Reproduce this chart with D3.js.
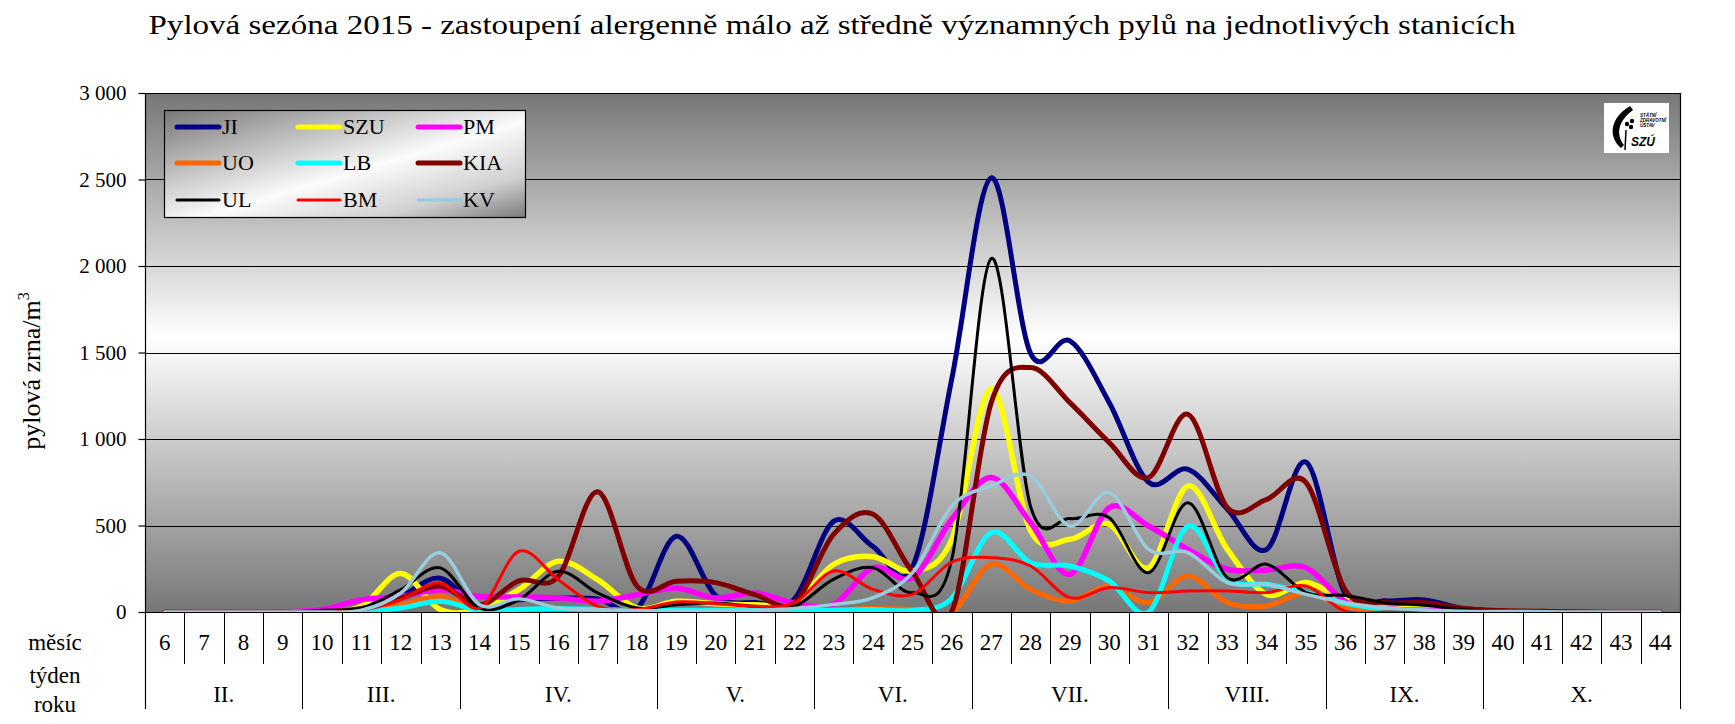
<!DOCTYPE html>
<html><head><meta charset="utf-8">
<script src="https://cdn.jsdelivr.net/npm/d3@7"></script>
<style>body{margin:0;background:#fff;} svg{display:block;} svg text{font-family:"Liberation Serif","Times New Roman",serif;}</style>
</head><body><svg id="c" width="1735" height="724"></svg>
<script>
const titleText = "Pylová sezóna 2015 - zastoupení alergenně málo až středně významných pylů na jednotlivých stanicích";
const weeks = ["6","7","8","9","10","11","12","13","14","15","16","17","18","19","20","21","22","23","24","25","26","27","28","29","30","31","32","33","34","35","36","37","38","39","40","41","42","43","44"];
const months = ["II.","III.","IV.","V.","VI.","VII.","VIII.","IX.","X."];
const monthSpans = [4,4,5,4,4,5,4,4,5];
const yTicks = [0,500,1000,1500,2000,2500,3000];

const JI  = [0,0,0,0,0,5,90,195,25,70,80,75,20,438,95,55,75,525,378,260,1350,2510,1495,1567,1210,750,825,594,362,866,100,65,70,20,5,2,0,0,0];
const SZU = [0,0,0,0,0,33,222,14,17,129,293,187,23,62,48,42,52,276,320,237,420,1291,470,420,507,256,729,362,102,170,70,35,30,10,2,0,0,0,0];
const PM  = [0,0,0,0,14,71,90,129,90,87,81,62,100,139,81,110,52,45,256,199,536,777,517,218,603,497,362,247,243,256,60,20,10,3,0,0,0,0,0];
const UO  = [0,0,0,0,0,10,42,90,14,5,5,5,5,5,5,5,5,10,20,15,0,276,131,64,150,54,208,54,35,110,30,10,5,0,0,0,0,0,0];
const LB  = [0,0,0,0,0,5,23,62,10,15,20,15,10,10,10,10,10,10,15,10,80,459,285,266,179,0,497,189,160,112,50,15,5,0,0,0,0,0,0];
const KIA = [0,0,0,0,0,20,80,150,40,180,205,695,150,178,170,100,52,450,565,230,5,1210,1413,1210,979,777,1143,603,651,748,125,55,55,20,8,4,2,0,0];
const UL  = [0,0,0,0,10,23,129,255,23,71,235,110,23,42,52,33,33,190,256,112,305,2043,610,540,545,227,632,198,276,112,96,54,39,15,3,0,0,0,0];
const BM  = [0,0,0,0,0,10,71,168,23,351,187,33,14,58,48,33,52,237,131,102,289,314,266,83,141,112,121,122,112,150,3,0,0,0,0,0,0,0,0];
const KV  = [0,0,0,0,0,10,110,342,42,77,23,14,8,8,8,10,20,44,83,227,613,729,786,497,690,362,343,170,160,102,54,25,12,5,3,2,0,0,0];

const seriesNames = ["JI","SZU","PM","UO","LB","KIA","UL","BM","KV"];
const seriesData = [JI,SZU,PM,UO,LB,KIA,UL,BM,KV];
const seriesColors = ["#000080","#ffff00","#ff00ff","#ff6600","#00ffff","#800000","#000000","#ff0000","#99ccdd"];
const seriesWidths = [5,5.5,5.5,5,5,5,3,3,3.5];

const SERIF = '"Liberation Serif","Times New Roman",serif';
const svg = d3.select("#c");
const L=145,R=1680,T=93,B=612;
const x = d3.scaleBand().domain(weeks).range([L,R]).padding(0);
const y = d3.scaleLinear().domain([0,3000]).range([B,T]);
const defs = svg.append("defs");

const bg = defs.append("linearGradient").attr("id","bg").attr("x1",0).attr("y1",0).attr("x2",0).attr("y2",1);
bg.append("stop").attr("offset",0).attr("stop-color","#777");
bg.append("stop").attr("offset",0.47).attr("stop-color","#fff");
bg.append("stop").attr("offset",1).attr("stop-color","#777");

const lg = defs.append("linearGradient").attr("id","lg").attr("x1",0).attr("y1",0).attr("x2",1).attr("y2",1);
lg.append("stop").attr("offset",0).attr("stop-color","#777");
lg.append("stop").attr("offset",0.55).attr("stop-color","#fbfbfb");
lg.append("stop").attr("offset",0.8).attr("stop-color","#d0d0d0");
lg.append("stop").attr("offset",1).attr("stop-color","#7a7a7a");

defs.append("clipPath").attr("id","clip").append("rect").attr("x",L).attr("y",T).attr("width",R-L).attr("height",B-T);

svg.append("rect").attr("x",L).attr("y",T).attr("width",R-L).attr("height",B-T).attr("fill","url(#bg)");

// gridlines
svg.append("g").selectAll("line").data(yTicks.filter(d=>d>0)).join("line")
  .attr("x1",L).attr("x2",R).attr("y1",d=>Math.round(y(d))+0.5).attr("y2",d=>Math.round(y(d))+0.5)
  .attr("stroke","#000").attr("stroke-width",1.2);
svg.append("line").attr("x1",R+0.5).attr("x2",R+0.5).attr("y1",T).attr("y2",B).attr("stroke","#000").attr("stroke-width",1.2);

// y axis
const loc = d3.formatLocale({thousands:" ", grouping:[3], decimal:",", currency:["",""]});
const fmt = d => loc.format(",")(d);
const ya = svg.append("g").attr("transform",`translate(${L+0.5},0)`)
  .call(d3.axisLeft(y).tickValues(yTicks).tickSize(7).tickSizeOuter(0).tickPadding(12).tickFormat(fmt));
ya.attr("font-family",null).attr("font-size",null);
ya.select(".domain").remove();
ya.selectAll(".tick line").attr("stroke","#000").attr("stroke-width",1.2);
ya.selectAll(".tick text").style("font-family",SERIF).style("font-size","21px").attr("fill","#000");
svg.append("line").attr("x1",L+0.5).attr("x2",L+0.5).attr("y1",T).attr("y2",709).attr("stroke","#000").attr("stroke-width",1.2);

// y title
svg.append("text").attr("transform","translate(40,371) rotate(-90)").attr("text-anchor","middle")
  .style("font-family",SERIF).style("font-size","26px").attr("fill","#000")
  .call(t=>{t.append("tspan").text("pylová zrna/m"); t.append("tspan").style("font-size","16px").attr("dy",-11).text("3");});

// series
const line = d3.line().x((d,i)=>x(weeks[i])+x.bandwidth()/2).y(d=>y(d)).curve(d3.curveCardinal.tension(0));
svg.append("g").attr("clip-path","url(#clip)").selectAll("path").data(seriesData).join("path")
  .attr("d",d=>line(d)).attr("fill","none")
  .attr("stroke",(d,i)=>seriesColors[i]).attr("stroke-width",(d,i)=>seriesWidths[i])
  .attr("stroke-linejoin","round").attr("stroke-linecap","round");

// x axis line
svg.append("line").attr("x1",L).attr("x2",R+1).attr("y1",B+0.5).attr("y2",B+0.5).attr("stroke","#000").attr("stroke-width",1.2);

// table below axis
const step = x.step();
const monthBounds = [0]; monthSpans.forEach(s=>monthBounds.push(monthBounds[monthBounds.length-1]+s));
const bounds = d3.range(weeks.length+1);
svg.append("g").selectAll("line").data(bounds).join("line")
  .attr("x1",k=>Math.round(L+k*step)+0.5).attr("x2",k=>Math.round(L+k*step)+0.5)
  .attr("y1",B).attr("y2",k=>monthBounds.includes(k)?709:664)
  .attr("stroke","#000").attr("stroke-width",1);
svg.append("g").selectAll("text").data(weeks).join("text")
  .attr("x",d=>x(d)+x.bandwidth()/2).attr("y",650).attr("text-anchor","middle")
  .style("font-family",SERIF).style("font-size","23px").attr("fill","#000").text(d=>d);
svg.append("g").selectAll("text").data(months).join("text")
  .attr("x",(d,i)=>L+(monthBounds[i]+monthBounds[i+1])/2*step).attr("y",702).attr("text-anchor","middle")
  .style("font-family",SERIF).style("font-size","23px").attr("fill","#000").text(d=>d);
[["měsíc",650],["týden",683],["roku",712]].forEach(([t,yy])=>{
  svg.append("text").attr("x",55).attr("y",yy).attr("text-anchor","middle")
    .style("font-family",SERIF).style("font-size","23px").attr("fill","#000").text(t);
});

// legend
const lgG = svg.append("g");
lgG.append("rect").attr("x",164.5).attr("y",110.5).attr("width",361).attr("height",107).attr("fill","url(#lg)").attr("stroke","#000").attr("stroke-width",1.2);
const colX=[177,298,418], rowY=[127,163,200];
seriesNames.forEach((n,i)=>{
  const cx=colX[i%3], cy=rowY[Math.floor(i/3)];
  lgG.append("line").attr("x1",cx).attr("x2",cx+42).attr("y1",cy).attr("y2",cy)
    .attr("stroke",seriesColors[i]).attr("stroke-width",Math.min(seriesWidths[i],5)).attr("stroke-linecap","round");
  lgG.append("text").attr("x",cx+45).attr("y",cy+7).style("font-family",SERIF).style("font-size","22px").attr("fill","#000").text(n);
});

// logo
const lo = svg.append("g");
lo.append("rect").attr("x",1604).attr("y",103).attr("width",65).attr("height",50).attr("fill","#fff");
lo.append("path").attr("d","M1630,106 C1611,117 1607,136 1621,148 L1624,145 C1615,134 1619,120 1633,110 Z").attr("fill","#000");
lo.append("line").attr("x1",1626).attr("x2",1625).attr("y1",130).attr("y2",150).attr("stroke","#000").attr("stroke-width",1.5);
[[1627,124],[1632,121],[1631,127]].forEach(([a,b])=>lo.append("circle").attr("cx",a).attr("cy",b).attr("r",2.2).attr("fill","#000"));
[["STÁTNÍ",117],["ZDRAVOTNÍ",122],["ÚSTAV",127]].forEach(([t,yy])=>lo.append("text").attr("x",1640).attr("y",yy).style("font-family","Liberation Sans").style("font-size","4.5px").attr("font-weight","bold").attr("font-style","italic").text(t));
lo.append("text").attr("x",1631).attr("y",146).style("font-family","Liberation Sans").style("font-size","12px").attr("font-weight","bold").attr("font-style","italic").text("SZÚ");

// title
const tt = svg.append("text").attr("x",832).attr("y",34).attr("text-anchor","middle")
  .style("font-family",SERIF).style("font-size","28px").attr("fill","#000").text(titleText);
tt.attr("textLength",1367).attr("lengthAdjust","spacingAndGlyphs");
</script></body></html>
